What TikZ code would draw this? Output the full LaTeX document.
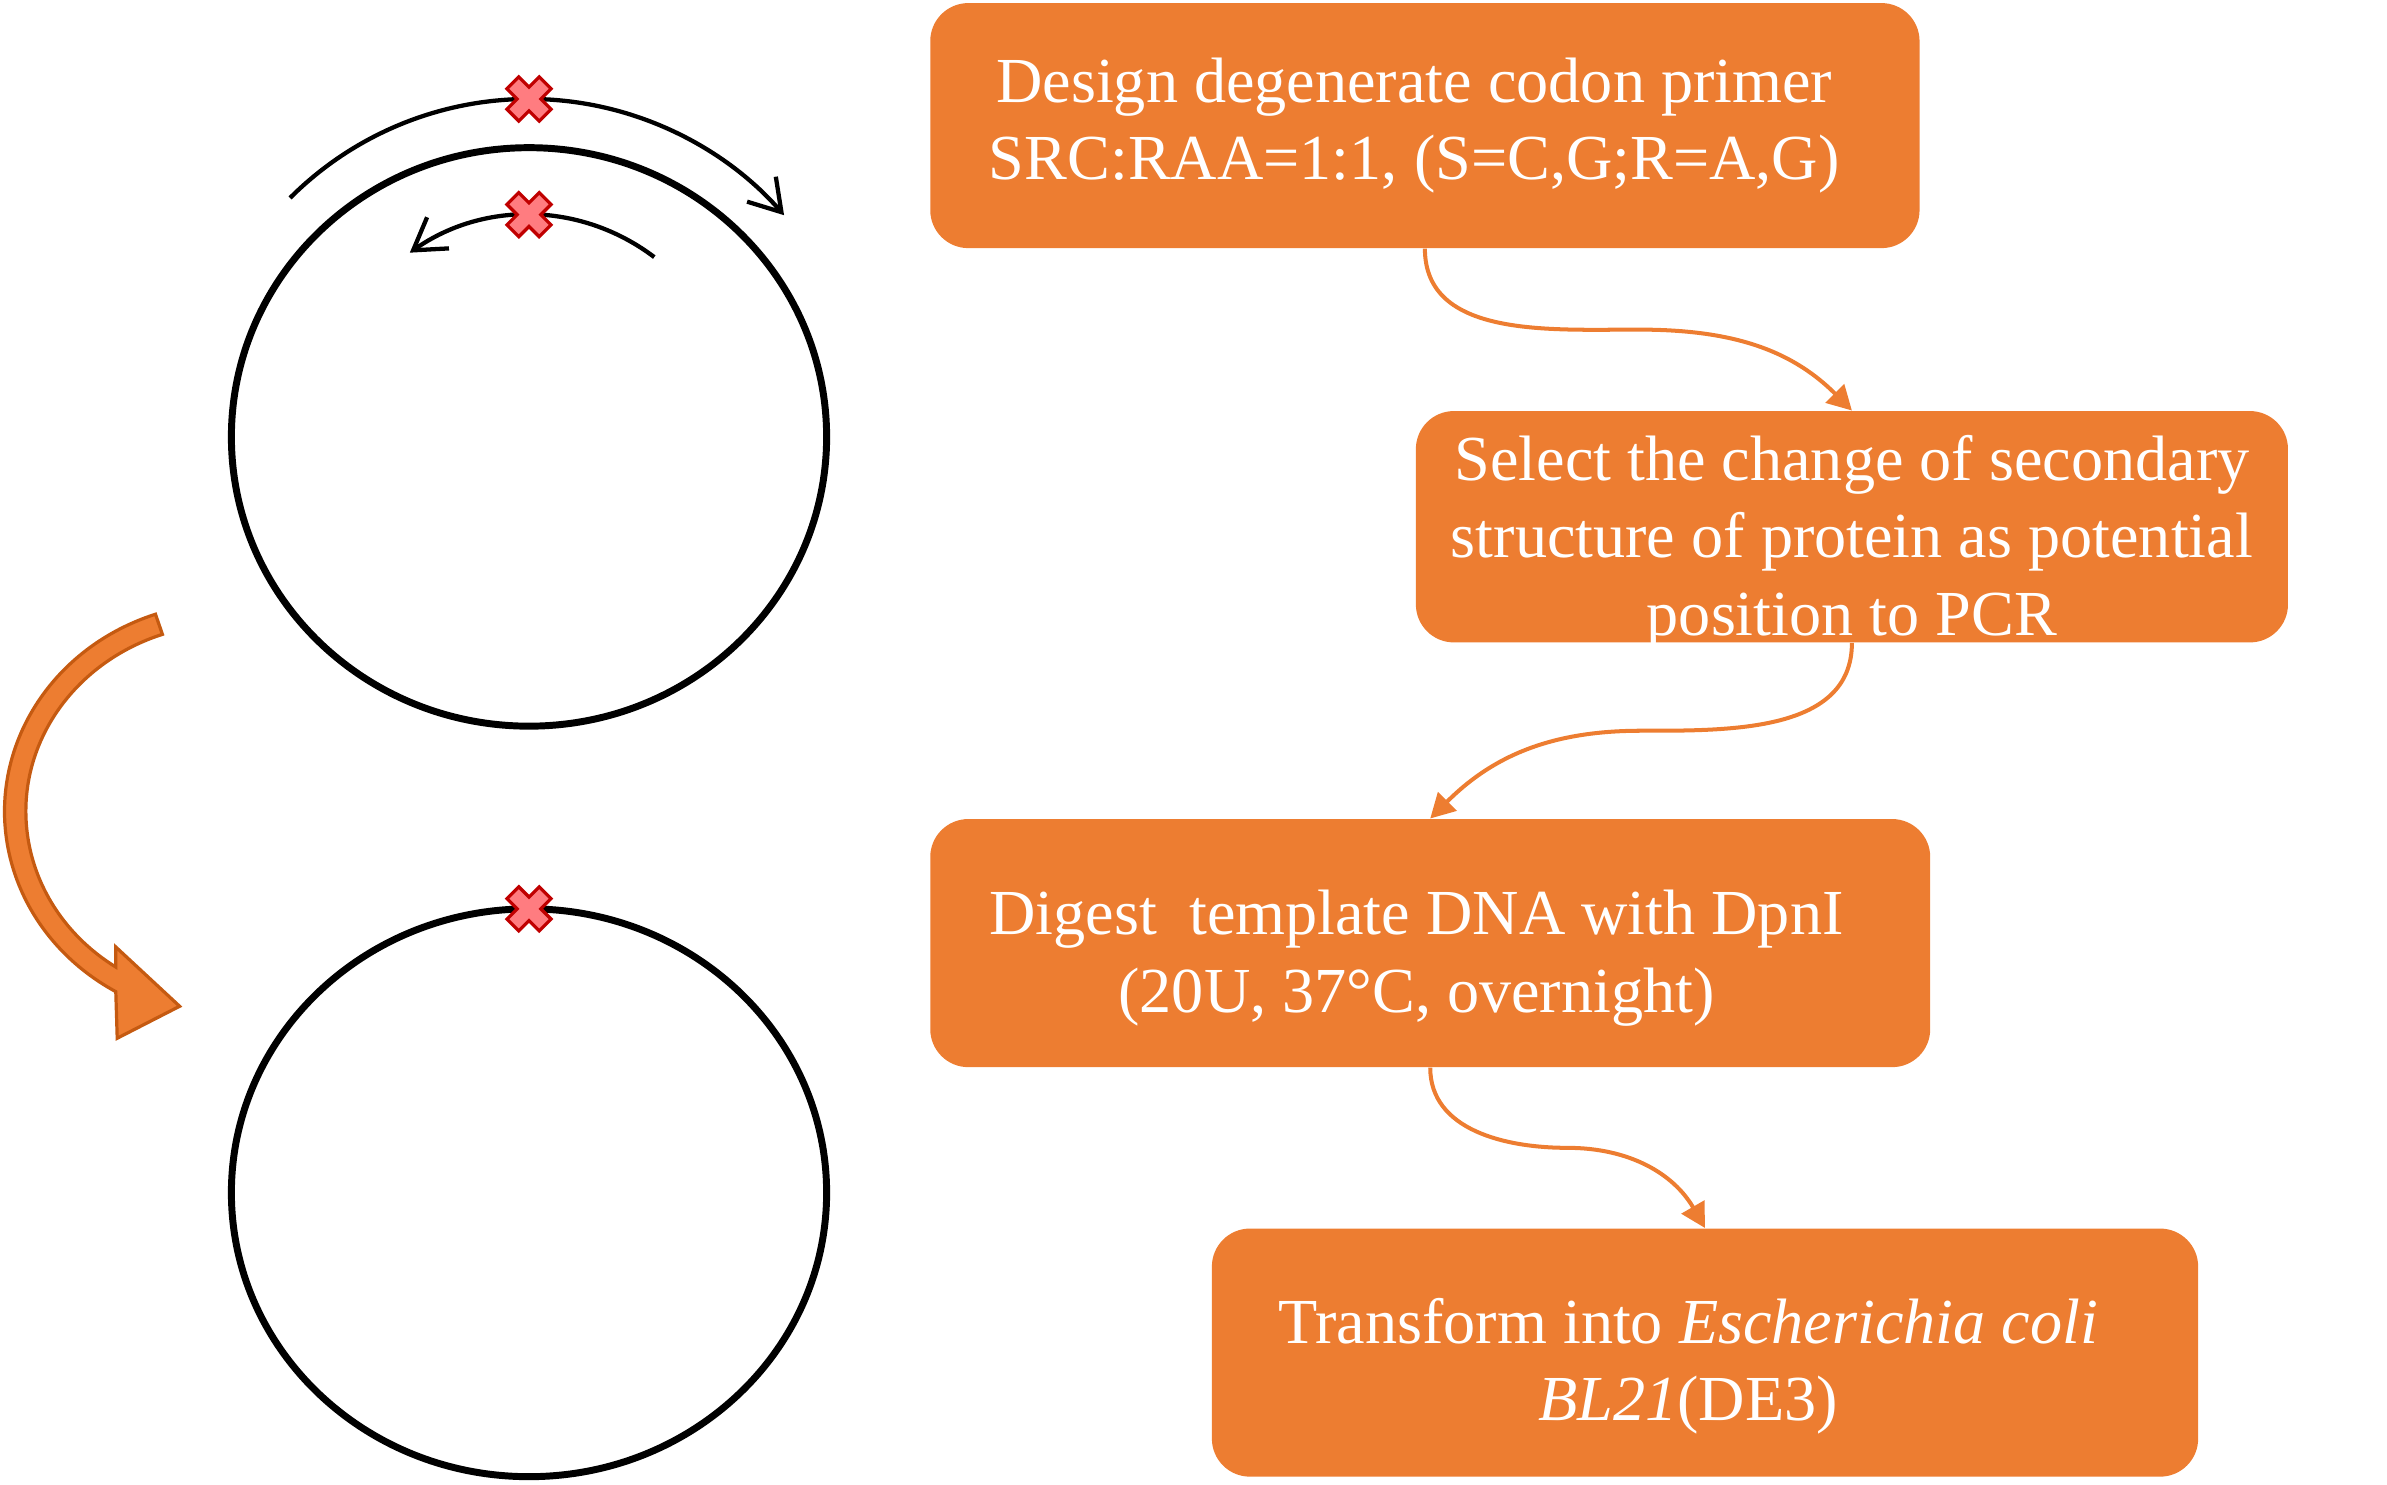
\documentclass[tikz,border=0pt]{standalone}
\usepackage{fontspec}
\setmainfont{Liberation Serif}
\usetikzlibrary{arrows.meta,calc}
\definecolor{stepfill}{HTML}{ED7D31}
\definecolor{arrowline}{HTML}{C55A11}
\definecolor{crossfill}{HTML}{FF7C80}
\definecolor{crossline}{HTML}{C00000}
\begin{document}
\begin{tikzpicture}
    [%%%%%%%%%%%%%%%%%%%%%%%%%%%%%%
        x=0.02cm, y=0.02cm,
        stepbox/.style={rectangle, rounded corners=0.5cm, fill=stepfill, inner sep=0pt},
        steptext/.style={text=white, align=center, inner sep=0pt, font=\fontsize{24}{29}\selectfont},
        flow/.style={stepfill, line width=1.5pt, -{Triangle[length=0.32cm,width=0.34cm]}},
        plasmid/.style={black, line width=2.6pt},
        primer/.style={black, line width=1.6pt, -{Straight Barb[length=0.4cm,width=0.5cm]}},
        mutation/.style={fill=crossfill, draw=crossline, line width=1.2pt, line join=miter},
        bigarrow/.style={fill=stepfill, draw=arrowline, line width=1.2pt},
    ]%%%%%%%%%%%%%%%%%%%%%%%%%%%%%%
\useasboundingbox (0,0) rectangle (1568,-975);

% plasmid with primers
\begin{scope}[shift={(347.5,-287)}]
\draw[plasmid] (0,0) ellipse [x radius=195.5, y radius=190];
\draw[primer] (135:222) arc[start angle=135, end angle=41, radius=222];
\draw[primer] (54:140 and 146) arc[start angle=54, end angle=124, x radius=140, y radius=146];
\end{scope}

% mutated plasmid
\draw[plasmid] (347.5,-783.5) ellipse [x radius=195.5, y radius=186.5];

\foreach \p in {(347.5,-65),(347.5,-141),(347.5,-597)}
    \draw[mutation, shift={\p}, rotate=45] (15,5.5) -- (5.5,5.5) -- (5.5,15) -- (-5.5,15) -- (-5.5,5.5) -- (-15,5.5)
        -- (-15,-5.5) -- (-5.5,-5.5) -- (-5.5,-15) -- (5.5,-15) -- (5.5,-5.5) -- (15,-5.5) -- cycle;

% curved arrow
\begin{scope}[shift={(150,-533)}]
\filldraw[bigarrow] (109:147 and 137) arc[start angle=109, end angle=239.8, x radius=147, y radius=137]
    -- (-73,-149) -- (-32,-128) -- (-74,-89) -- (236.2:133 and 123)
    arc[start angle=236.2, end angle=109, x radius=133, y radius=123] -- cycle;
\end{scope}

% steps
\node[stepbox, minimum width=13cm, minimum height=3.22cm] (design) at (936,-82.5) {};
\node[stepbox, minimum width=11.46cm, minimum height=3.04cm] (select) at (1216.5,-346) {};
\node[stepbox, minimum width=13.14cm, minimum height=3.26cm] (digest) at (939.5,-619.5) {};
\node[stepbox, minimum width=12.96cm, minimum height=3.26cm] (transform) at (1120,-888.5) {};

\node[steptext] (design text) at ([shift={(-7,0)}]design.center)
    {Design degenerate codon primer\\SRC:RAA=1:1, (S=C,G;R=A,G)};
\node[steptext] (select text) at ([shift={(0,-10)}]select.center)
    {Select the change of secondary\\structure of protein as potential\\position to PCR};
\node[steptext] (digest text) at ([shift={(-9,-10)}]digest.center)
    {Digest\ \ template DNA with DpnI\\(20U, 37°C, overnight)};
\node[steptext] (transform text) at ([shift={(-11,-9)}]transform.center)
    {Transform into \textit{Escherichia coli}\\\textit{BL21}(DE3)};

\draw[flow] (design.south) to[out=-90,in=180] ($(design.south)!0.5!(select.north)$) to[out=0,in=135] (select.north);
\draw[flow] (select.south) to[out=-90,in=0] ($(select.south)!0.5!(digest.north)$) to[out=180,in=45] (digest.north);
\draw[flow] (digest.south) to[out=-90,in=180] ($(digest.south)!0.5!(transform.north)$) to[out=0,in=120] (transform.north);
\end{tikzpicture}
\end{document}
